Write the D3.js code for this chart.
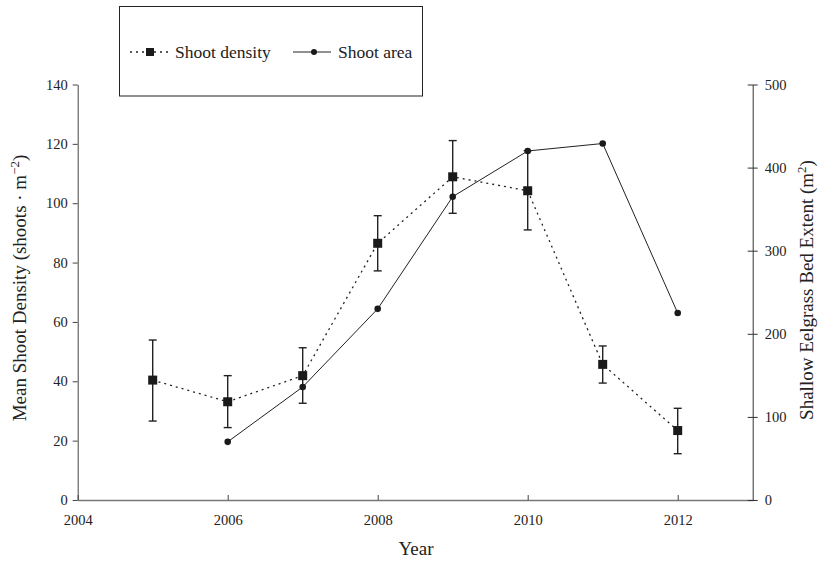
<!DOCTYPE html>
<html>
<head>
<meta charset="utf-8">
<script src="https://cdn.jsdelivr.net/npm/d3@7"></script>
<style>
  body { margin: 0; background: #fff; }
  svg text { font-family: "Liberation Serif", "DejaVu Serif", "Times New Roman", serif; fill: #222; }
</style>
</head>
<body>
<svg id="chart" width="819" height="562"></svg>
<script>
// shoot density (left axis), mean and error bar ends
var densityYears = [2005, 2006, 2007, 2008, 2009, 2010, 2011, 2012];
var densityMean  = [40.4, 33.1, 41.9, 86.5, 108.9, 104.2, 45.7, 23.4];
var densityHigh  = [53.9, 41.9, 51.3, 95.8, 121.1, 117.7, 51.9, 30.9];
var densityLow   = [26.6, 24.4, 32.6, 77.2, 96.6, 91.0, 39.4, 15.6];

// shoot area (right axis)
var areaYears = [2006, 2007, 2008, 2009, 2010, 2011, 2012];
var areaValues = [70, 136, 230, 365, 420, 429, 225];

var xTicks = [2004, 2006, 2008, 2010, 2012];
var leftTicks = [0, 20, 40, 60, 80, 100, 120, 140];
var rightTicks = [0, 100, 200, 300, 400, 500];

var svg = d3.select("#chart");

var x = d3.scaleLinear().domain([2004, 2013]).range([77.7, 752.7]);
var yL = d3.scaleLinear().domain([0, 140]).range([500, 84.5]);
var yR = d3.scaleLinear().domain([0, 500]).range([500, 84.5]);

var dens = densityYears.map(function(d, i) {
    return {year: d, mean: densityMean[i], hi: densityHigh[i], lo: densityLow[i]};
});
var area = areaYears.map(function(d, i) { return {year: d, v: areaValues[i]}; });

function styleAxis(g, col) {
    g.attr("font-family", null).attr("font-size", null);
    g.select(".domain").attr("stroke", col);
    g.selectAll(".tick line").attr("stroke", col);
    g.selectAll(".tick text")
        .style("font-family", "'Liberation Serif', 'Times New Roman', serif")
        .style("font-size", "14.5px")
        .style("fill", "#222");
}

/* axes */
var xAxis = svg.append("g").attr("transform", "translate(0,500)")
    .call(d3.axisBottom(x).tickValues(xTicks).tickFormat(d3.format("d"))
          .tickSizeInner(-5).tickSizeOuter(0).tickPadding(15));
styleAxis(xAxis, "#444");
xAxis.select(".domain").attr("stroke", "#777").attr("stroke-width", 1.6);

var leftAxis = svg.append("g").attr("transform", "translate(77.7,0)")
    .call(d3.axisLeft(yL).tickValues(leftTicks).tickSize(5).tickSizeOuter(0).tickPadding(5));
styleAxis(leftAxis, "#444");

var rightAxis = svg.append("g").attr("transform", "translate(752.7,0)")
    .call(d3.axisRight(yR).tickValues(rightTicks).tickSize(5).tickSizeOuter(0).tickPadding(7));
styleAxis(rightAxis, "#333");
rightAxis.selectAll(".tick line").attr("x1", -5);

/* axis titles */
svg.append("text").attr("x", 416).attr("y", 555).attr("text-anchor", "middle")
    .attr("font-size", 19).text("Year");

var lt = svg.append("text").attr("transform", "translate(26,288) rotate(-90)")
    .attr("text-anchor", "middle").attr("font-size", 19);
lt.append("tspan").text("Mean Shoot Density (shoots \u00b7 m");
lt.append("tspan").attr("font-size", 13).attr("dy", -7).text("\u22122");
lt.append("tspan").attr("dy", 7).text(")");

var rt = svg.append("text").attr("transform", "translate(813,290) rotate(-90)")
    .attr("text-anchor", "middle").attr("font-size", 19);
rt.append("tspan").text("Shallow Eelgrass Bed Extent (m");
rt.append("tspan").attr("font-size", 13).attr("dy", -7).text("2");
rt.append("tspan").attr("dy", 7).text(")");

/* shoot area line */
svg.append("path").datum(area)
    .attr("fill", "none").attr("stroke", "#222").attr("stroke-width", 1)
    .attr("d", d3.line().x(function(d) { return x(d.year); }).y(function(d) { return yR(d.v); }));

/* density dotted line */
svg.append("path").datum(dens)
    .attr("fill", "none").attr("stroke", "#222").attr("stroke-width", 1.3)
    .attr("stroke-dasharray", "2,4")
    .attr("d", d3.line().x(function(d) { return x(d.year); }).y(function(d) { return yL(d.mean); }));

/* error bars */
var eb = svg.append("g").attr("stroke", "#222").attr("stroke-width", 1.4);
eb.selectAll(".v").data(dens).enter().append("line")
    .attr("x1", function(d) { return x(d.year); }).attr("x2", function(d) { return x(d.year); })
    .attr("y1", function(d) { return yL(d.hi); }).attr("y2", function(d) { return yL(d.lo); });
["hi", "lo"].forEach(function(k) {
    eb.selectAll(".c" + k).data(dens).enter().append("line")
        .attr("x1", function(d) { return x(d.year) - 4; }).attr("x2", function(d) { return x(d.year) + 4; })
        .attr("y1", function(d) { return yL(d[k]); }).attr("y2", function(d) { return yL(d[k]); });
});

/* markers */
svg.selectAll(".sq").data(dens).enter().append("rect")
    .attr("x", function(d) { return x(d.year) - 4.5; }).attr("y", function(d) { return yL(d.mean) - 4.5; })
    .attr("width", 9).attr("height", 9).attr("fill", "#1a1a1a");
svg.selectAll(".dot").data(area).enter().append("circle")
    .attr("cx", function(d) { return x(d.year); }).attr("cy", function(d) { return yR(d.v); })
    .attr("r", 3.3).attr("fill", "#1a1a1a");

/* legend */
var lg = svg.append("g");
lg.append("rect").attr("x", 119.5).attr("y", 6.5).attr("width", 303).attr("height", 89.5)
    .attr("fill", "none").attr("stroke", "#222").attr("stroke-width", 1);
lg.append("line").attr("x1", 130).attr("x2", 171).attr("y1", 52).attr("y2", 52)
    .attr("stroke", "#222").attr("stroke-width", 1.5).attr("stroke-dasharray", "2,4");
lg.append("rect").attr("x", 146).attr("y", 48).attr("width", 8).attr("height", 8).attr("fill", "#1a1a1a");
lg.append("text").attr("x", 175).attr("y", 58).attr("font-size", 17.5).text("Shoot density");
lg.append("line").attr("x1", 293).attr("x2", 331).attr("y1", 52).attr("y2", 52)
    .attr("stroke", "#222").attr("stroke-width", 1);
lg.append("circle").attr("cx", 314).attr("cy", 52).attr("r", 3).attr("fill", "#1a1a1a");
lg.append("text").attr("x", 338).attr("y", 58).attr("font-size", 17.5).text("Shoot area");
</script>
</body>
</html>
